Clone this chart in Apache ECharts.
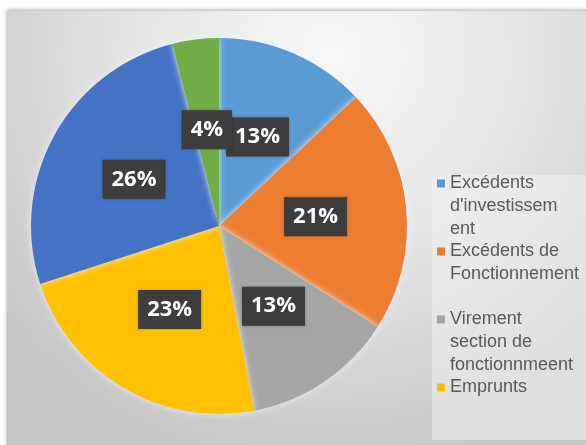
<!DOCTYPE html>
<html>
<head>
<meta charset="utf-8">
<script src="https://cdn.jsdelivr.net/npm/echarts@6/dist/echarts.min.js"></script>
<style>
html,body{margin:0;padding:0;background:#fff;}
#c{width:586px;height:445px;}
</style>
</head>
<body>
<div id="c"></div>
<script>
const categories = ["Excédents d'investissement", "Excédents de Fonctionnement", "Virement section de fonctionnmeent", "Emprunts", "Subventions", "Autres recettes"];
const values = [13, 21, 13, 23, 26, 4];
const colors = ["#5B9BD5", "#ED7D31", "#A5A5A5", "#FFC000", "#4472C4", "#70AD47"];
const legendLines = [
  ["Excédents", "d'investissem", "ent"],
  ["Excédents de", "Fonctionnement"],
  ["Virement", "section de", "fonctionnmeent"],
  ["Emprunts"]
];

// pad each legend text with blank lines so that its first line sits level with the icon
function legendText(lines) {
  const n = Math.max(lines.length, 2);
  const above = new Array(n - 1).fill('');
  const below = new Array(Math.max(0, (n - 1) - (lines.length - 1))).fill('');
  return above.concat(lines, below).join('\n');
}

const chart = echarts.init(document.getElementById('c'));
chart.setOption({
  animation: false,
  graphic: [{
    type: 'rect', z: -10, silent: true,
    shape: { x: 7, y: 11, width: 590, height: 440 },
    style: {
      fill: {
        type: 'radial', x: 0.55, y: 0.1, r: 0.95,
        colorStops: [{ offset: 0, color: '#f8f8f8' }, { offset: 0.5, color: '#e4e4e4' }, { offset: 1, color: '#c6c6c6' }]
      },
      shadowBlur: 4, shadowColor: 'rgba(0,0,0,0.35)', shadowOffsetY: -1
    }
  }, {
    type: 'rect', z: -9, silent: true,
    shape: { x: 432, y: 175, width: 160, height: 265 },
    style: { fill: 'rgba(240,240,240,0.55)' }
  }],
  legend: {
    orient: 'vertical',
    left: 437, top: 126,
    padding: 0,
    itemGap: -24,
    itemWidth: 8, itemHeight: 8,
    icon: 'rect',
    data: categories.slice(0, 4),
    formatter: function (name) { return legendText(legendLines[categories.indexOf(name)]); },
    textStyle: { fontFamily: 'Liberation Sans', fontSize: 18, color: '#595959', lineHeight: 23 }
  },
  series: [{
    type: 'pie',
    center: [219, 226],
    radius: 188,
    startAngle: 90,
    clockwise: true,
    avoidLabelOverlap: false,
    labelLayout: { hideOverlap: false },
    color: colors,
    data: categories.map(function (c, i) { return { name: c, value: values[i] }; }),
    itemStyle: { shadowBlur: 6, shadowColor: 'rgba(235,245,255,0.9)' },
    label: {
      position: 'inside',
      formatter: '{c}%',
      color: '#ffffff',
      fontFamily: 'Open Sans',
      fontWeight: 'bold',
      fontSize: 22,
      backgroundColor: '#3d3d3d',
      padding: [9, 9, 8, 9],
      shadowBlur: 3, shadowColor: 'rgba(0,0,0,0.35)'
    },
    labelLine: { show: false },
    emphasis: { disabled: true }
  }]
});
</script>
</body>
</html>
